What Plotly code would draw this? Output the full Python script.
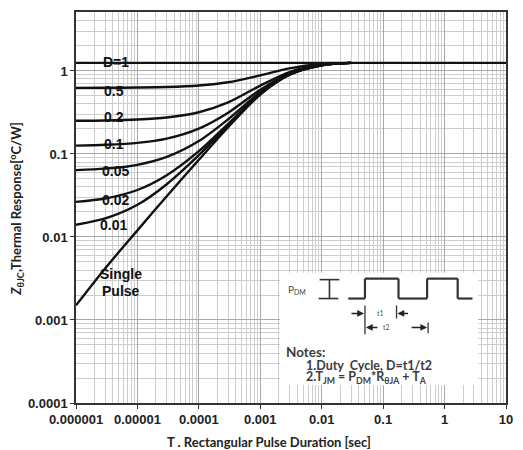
import plotly.graph_objects as go

# ---------------- data ----------------
pulse_t = [1e-6, 3e-6, 1e-5, 3e-5, 1e-4, 3e-4, 1e-3, 3e-3, 1e-2, 3e-2]
z_single = [0.0015, 0.0042, 0.012, 0.031, 0.085, 0.21, 0.52, 0.90, 1.17, 1.25]
z_d001 = [0.0140, 0.0167, 0.0244, 0.0432, 0.0967, 0.220, 0.527, 0.904, 1.171, 1.25]
z_d002 = [0.0265, 0.0291, 0.0368, 0.0554, 0.108, 0.231, 0.535, 0.907, 1.172, 1.25]
z_d005 = [0.0639, 0.0665, 0.0739, 0.092, 0.143, 0.262, 0.556, 0.918, 1.174, 1.25]
z_d01 = [0.126, 0.129, 0.136, 0.153, 0.202, 0.314, 0.593, 0.935, 1.178, 1.25]
z_d02 = [0.251, 0.253, 0.260, 0.275, 0.318, 0.418, 0.666, 0.970, 1.186, 1.25]
z_d05 = [0.626, 0.627, 0.631, 0.640, 0.668, 0.730, 0.885, 1.075, 1.210, 1.25]
d1_t = [1e-6, 10]
z_d1 = [1.25, 1.25]

x_tickvals = [1e-6, 1e-5, 1e-4, 1e-3, 1e-2, 1e-1, 1, 10]
x_ticktext = ["0.000001", "0.00001", "0.0001", "0.001", "0.01", "0.1", "1", "10"]
y_tickvals = [1e-4, 1e-3, 1e-2, 1e-1, 1]
y_ticktext = ["0.0001", "0.001", "0.01", "0.1", "1"]

curve_labels = ["D=1", "0.5", "0.2", "0.1", "0.05", "0.02", "0.01", "Single", "Pulse"]

# ---------------- geometry ----------------
W, H = 523, 450
PL, PT, PW, PH = 76, 10, 436, 393          # plot area in page pixels
L, T = PL, PT
R = W - L - PW
B = H - T - PH


def px(x):
    return (x - PL) / PW


def py(y):
    return (PT + PH - y) / PH


fig = go.Figure()
series = [
    (d1_t, z_d1), (pulse_t, z_d05), (pulse_t, z_d02), (pulse_t, z_d01),
    (pulse_t, z_d005), (pulse_t, z_d002), (pulse_t, z_d001), (pulse_t, z_single),
]
for xs, ys in series:
    fig.add_trace(go.Scatter(x=xs, y=ys, mode="lines",
                             line=dict(color="#111111", width=2.4, shape="spline", smoothing=0.8),
                             showlegend=False, hoverinfo="skip"))

minor_x = [m * 10 ** e for e in range(-6, 1) for m in range(2, 10)]
minor_y = [m * 10 ** e for e in range(-4, 1) for m in range(2, 10)]

tick_font = dict(family="Liberation Sans, Arial, sans-serif", size=13, color="#222222", weight="bold")
fig.update_xaxes(type="log", range=[-6, 1], tickvals=x_tickvals, ticktext=x_ticktext,
                 tickfont=tick_font, ticks="outside", ticklen=4, tickcolor="#333",
                 showgrid=True, gridcolor="#a8a8a8", gridwidth=1,
                 minor=dict(tickvals=minor_x, showgrid=True, gridcolor="#cdcdcd", gridwidth=1, ticks=""),
                 showline=True, linecolor="#333", linewidth=1.5, mirror=True, zeroline=False)
fig.update_yaxes(type="log", range=[-4, 0.71], tickvals=y_tickvals, ticktext=y_ticktext,
                 tickfont=tick_font, ticks="outside", ticklen=4, tickcolor="#333",
                 showgrid=True, gridcolor="#a8a8a8", gridwidth=1,
                 minor=dict(tickvals=minor_y, showgrid=True, gridcolor="#cdcdcd", gridwidth=1, ticks=""),
                 showline=True, linecolor="#333", linewidth=1.5, mirror=True, zeroline=False)

ann = []
lab_font = dict(family="Liberation Sans, Arial, sans-serif", size=14, color="#111111")
label_pos = [(117, 60), (115, 89), (115, 116), (115, 143), (116, 170), (116, 199), (114, 224), (122, 273), (122, 290)]
for txt, (lx, ly) in zip(curve_labels, label_pos):
    ann.append(dict(x=px(lx), y=py(ly), xref="paper", yref="paper", text="<b>%s</b>" % txt,
                    showarrow=False, font=lab_font, xanchor="center", yanchor="middle"))

# axis titles
ann.append(dict(x=px(272), y=py(442), xref="paper", yref="paper",
                text="<b>T . Rectangular Pulse Duration [sec]</b>", showarrow=False,
                font=dict(family="Lato, sans-serif", size=13, color="#222"),
                xanchor="center", yanchor="middle"))
ann.append(dict(x=px(16), y=py(208), xref="paper", yref="paper", textangle=-90,
                text="<b><i>Z</i><sub>θJC</sub>,Thermal Response[<sup>o</sup>C/W]</b>", showarrow=False,
                font=dict(family="Lato, sans-serif", size=13, color="#222"),
                xanchor="center", yanchor="middle"))

# notes box
note_font = dict(family="Lato, sans-serif", size=12.5, color="#3c3c3c")
shapes = [dict(type="rect", xref="paper", yref="paper", x0=px(283), x1=px(484), y0=py(385), y1=py(272),
               fillcolor="white", line=dict(width=0), layer="above")]


def seg(x0, y0, x1, y1, w=1.6):
    return dict(type="line", xref="paper", yref="paper", x0=px(x0), y0=py(y0), x1=px(x1), y1=py(y1),
                line=dict(color="#333", width=w), layer="above")


wave = [(352, 298), (369, 298), (369, 278), (403, 278), (403, 298), (432, 298), (432, 278), (463, 278),
        (463, 298), (478, 298)]
for (a, b), (c, d) in zip(wave[:-1], wave[1:]):
    shapes.append(seg(a, b, c, d, 2.2))
shapes += [seg(333, 279, 333, 298, 1.6), seg(323, 279, 343, 279, 1.6), seg(322, 298, 342, 298, 1.6),
           seg(369, 305, 369, 334, 1.3), seg(401, 305, 401, 318, 1.3), seg(433, 322, 433, 333, 1.3)]

ann.append(dict(x=px(289), y=py(289), xref="paper", yref="paper", text="P<sub>DM</sub>",
                showarrow=False, font=dict(family="Lato, sans-serif", size=10, color="#444"),
                xanchor="left", yanchor="middle"))
ann.append(dict(x=px(385), y=py(313), xref="paper", yref="paper", text="t1", showarrow=False,
                font=dict(family="Lato, sans-serif", size=7, color="#555"), xanchor="center", yanchor="middle"))
ann.append(dict(x=px(391), y=py(327), xref="paper", yref="paper", text="t2", showarrow=False,
                font=dict(family="Lato, sans-serif", size=7, color="#555"), xanchor="center", yanchor="middle"))
for hx, hy, dx in [(368, 313, -14), (402, 313, 12), (370, 327, 13), (432, 327, -17)]:
    ann.append(dict(x=px(hx), y=py(hy), xref="paper", yref="paper", text="", showarrow=True,
                    ax=dx, ay=0, arrowhead=2, arrowsize=0.9, arrowwidth=1.5, arrowcolor="#222", standoff=0))

ann.append(dict(x=px(287), y=py(352), xref="paper", yref="paper", text="<b>Notes:</b>", showarrow=False,
                font=dict(family="Lato, sans-serif", size=13.5, color="#3c3c3c"), xanchor="left", yanchor="middle"))
ann.append(dict(x=px(307), y=py(365), xref="paper", yref="paper", text="<b>1.Duty  Cycle, D=t1/t2</b>",
                showarrow=False, font=note_font, xanchor="left", yanchor="middle"))
ann.append(dict(x=px(307), y=py(377), xref="paper", yref="paper",
                text="<b>2.T<sub>JM</sub> = P<sub>DM</sub>*R<sub>θJA</sub> + T<sub>A</sub></b>",
                showarrow=False, font=note_font, xanchor="left", yanchor="middle"))

fig.update_layout(width=W, height=H, margin=dict(l=L, r=R, t=T, b=B), plot_bgcolor="white",
                  paper_bgcolor="white", annotations=ann, shapes=shapes, showlegend=False)

fig.write_html("out.html", config={"displayModeBar": False},
               post_script="document.body.style.margin='0';document.body.style.overflow='hidden';")
